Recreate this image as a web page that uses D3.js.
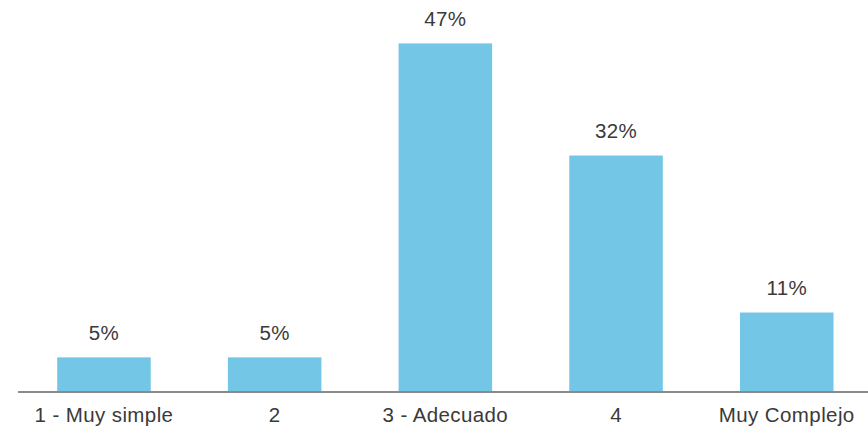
<!DOCTYPE html>
<html>
<head>
<meta charset="utf-8">
<script src="https://cdn.jsdelivr.net/npm/d3@7"></script>
<style>
  html, body { margin: 0; padding: 0; background: #ffffff; }
  svg { display: block; }
  text { font-family: "Liberation Sans", Arial, Helvetica, sans-serif; fill: #3a3a3a; letter-spacing: 0.4px; }
</style>
</head>
<body>
<svg id="chart" width="868" height="430"></svg>
<script>
// Survey answers: share of respondents per complexity rating (percent)
const categories = ["1 - Muy simple", "2", "3 - Adecuado", "4", "Muy Complejo"];
const values = [5, 5, 47, 32, 11];
const valueLabels = ["5%", "5%", "47%", "32%", "11%"];

const width = 868, height = 430;
const baseline = 391;
const fontSize = 20.5;

const svg = d3.select("#chart");

const x = d3.scaleBand()
  .domain(categories)
  .range([18.6, 872.1])
  .paddingInner(0.452)
  .paddingOuter(0.226);

const y = d3.scaleLinear()
  .domain([0.5, 47])
  .range([baseline, 43.4]);

// bars
svg.append("g")
  .selectAll("rect")
  .data(values)
  .join("rect")
  .attr("x", (d, i) => x(categories[i]))
  .attr("y", d => y(d))
  .attr("width", x.bandwidth())
  .attr("height", d => baseline - y(d))
  .attr("fill", "#73c6e6");

// value labels above bars
svg.append("g")
  .selectAll("text")
  .data(values)
  .join("text")
  .attr("x", (d, i) => x(categories[i]) + x.bandwidth() / 2)
  .attr("y", d => y(d) - 17.6)
  .attr("text-anchor", "middle")
  .attr("font-size", fontSize)
  .text((d, i) => valueLabels[i]);

// category axis
const axis = d3.axisBottom(x).tickSize(0).tickPadding(15);
const gx = svg.append("g")
  .attr("transform", `translate(0,${baseline + 1})`)
  .call(axis);
gx.select(".domain")
  .attr("d", `M18,0H${width}`)
  .attr("stroke", "#8a8a8a")
  .attr("stroke-width", 2);
gx.selectAll(".tick text")
  .attr("font-size", fontSize)
  .attr("font-family", "'Liberation Sans', Arial, Helvetica, sans-serif")
  .attr("fill", "#3a3a3a")
  .attr("dy", "0.71em");
</script>
</body>
</html>
